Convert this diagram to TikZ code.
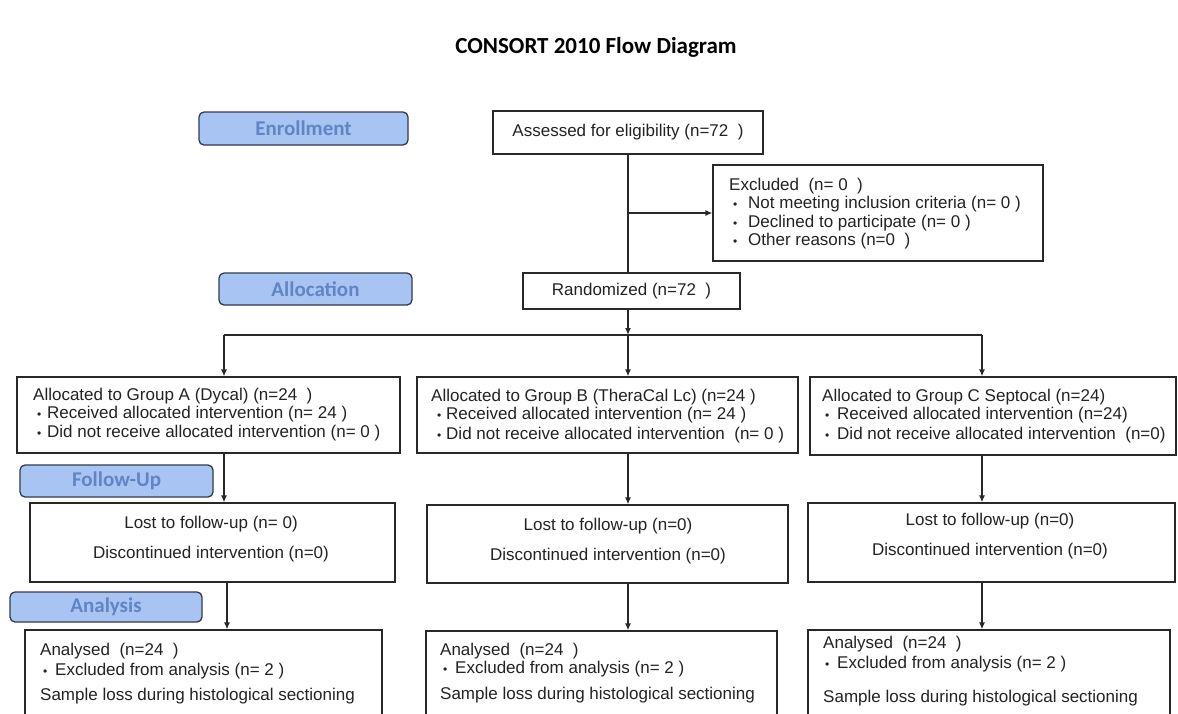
\documentclass[tikz,border=0pt]{standalone}
\usepackage{fontspec}
\setmainfont{Liberation Sans}
\newfontfamily\calfont{Carlito}
\usetikzlibrary{arrows.meta}
\definecolor{stagefill}{RGB}{168,196,242}
\definecolor{stagetext}{RGB}{96,132,196}
\definecolor{stageline}{RGB}{50,58,78}
\definecolor{boxline}{RGB}{40,40,40}
\definecolor{txt}{RGB}{35,35,35}
\newcommand{\bul}[1]{\makebox[#1][l]{\fontsize{12}{12}\selectfont\textbullet}}
\begin{document}
\begin{tikzpicture}[x=1pt,y=-1pt,
  box/.style={draw=boxline, line width=1.3pt, fill=white, inner sep=0pt, text=txt, font=\fontsize{17}{20}\selectfont},
  stage/.style={draw=stageline, line width=1.3pt, fill=stagefill, rounded corners=5pt, inner sep=0pt, text=stagetext, font=\calfont\bfseries\fontsize{21}{24}\selectfont},
  tl/.style={inner sep=0pt, anchor=base west, text=txt, font=\fontsize{17}{20}\selectfont},
  tc/.style={inner sep=0pt, anchor=base, text=txt, font=\fontsize{17}{20}\selectfont},
  conn/.style={draw=boxline, line width=1.3pt},
  arr/.style={conn, -{Latex[length=7pt,width=6pt]}},
]
\useasboundingbox (0,0) rectangle (1178,713);
\clip (0,0) rectangle (1178,713);
\fill[white] (0,0) rectangle (1178,713);

% title
\node[inner sep=0pt, text=black, font=\calfont\bfseries\fontsize{23}{26}\selectfont] (title) at (596,47) {CONSORT 2010 Flow Diagram};

% stage labels
\node[stage, minimum width=209pt, minimum height=33pt] (enroll) at (303.5,128.5) {Enrollment};
\node[stage, minimum width=193pt, minimum height=32pt] (alloclab) at (315.5,289) {Allocation};
\node[stage, minimum width=193pt, minimum height=32pt] (fulab) at (116.5,481) {Follow-Up};
\node[stage, minimum width=192pt, minimum height=30pt] (anlab) at (106,607) {Analysis};

% enrollment
\node[box, minimum width=270pt, minimum height=43pt] (assess) at (628,132.5) {Assessed for eligibility (n=72\ \ )};
\node[box, minimum width=330pt, minimum height=96pt] (excl) at (878,213) {};
\node[tl] (ex0) at (729,190) {Excluded\ \ (n=\ 0\ \ )};
\node[tl] (ex1) at (733,208) {\bul{15pt}Not meeting inclusion criteria (n=\ 0 )};
\node[tl] (ex2) at (733,227) {\bul{15pt}Declined to participate (n=\ 0 )};
\node[tl] (ex3) at (733,245) {\bul{15pt}Other reasons (n=0\ \ )};
\node[box, minimum width=217pt, minimum height=36pt] (rand) at (631.5,291) {Randomized (n=72\ \ )};

% allocation
\node[box, minimum width=383pt, minimum height=76pt] (grpA) at (208.5,415) {};
\node[tl] (a0) at (33,400) {Allocated to Group A (Dycal) (n=24\ \ )};
\node[tl] (a1) at (37,418) {\bul{10pt}Received allocated intervention (n=\ 24 )};
\node[tl] (a2) at (37,437) {\bul{10pt}Did not receive allocated intervention (n=\ 0 )};

\node[box, minimum width=381pt, minimum height=76pt] (grpB) at (607.5,415) {};
\node[tl] (b0) at (431,401) {Allocated to Group B (TheraCal Lc) (n=24 )};
\node[tl] (b1) at (437,419) {\bul{9pt}Received allocated intervention (n=\ 24 )};
\node[tl] (b2) at (437,439) {\bul{9pt}Did not receive allocated intervention\ \ (n=\ 0 )};

\node[box, minimum width=366pt, minimum height=78pt] (grpC) at (993,416) {};
\node[tl] (c0) at (822,401) {Allocated to Group C Septocal (n=24)};
\node[tl] (c1) at (825,419) {\bul{12pt}Received allocated intervention (n=24)};
\node[tl] (c2) at (825,439) {\bul{12pt}Did not receive allocated intervention\ \ (n=0)};

% follow-up
\node[box, minimum width=365pt, minimum height=79pt] (fuA) at (212.5,542.5) {};
\node[tc] (fa1) at (211,528) {Lost to follow-up (n=\ 0)};
\node[tc] (fa2) at (211,558) {Discontinued intervention (n=0)};
\node[box, minimum width=361pt, minimum height=78pt] (fuB) at (607.5,544) {};
\node[tc] (fb1) at (608,530) {Lost to follow-up (n=0)};
\node[tc] (fb2) at (608,560) {Discontinued intervention (n=0)};
\node[box, minimum width=367pt, minimum height=79pt] (fuC) at (991.5,542.5) {};
\node[tc] (fc1) at (990,525) {Lost to follow-up (n=0)};
\node[tc] (fc2) at (990,555) {Discontinued intervention (n=0)};

% analysis
\node[box, minimum width=357pt, minimum height=110pt] (anA) at (203.5,685) {};
\node[tl] (na0) at (40,655) {Analysed\ \ (n=24\ \ )};
\node[tl] (na1) at (43,675) {\bul{12pt}Excluded from analysis (n=\ 2 )};
\node[tl] (na2) at (40,700) {Sample loss during histological sectioning};
\node[box, minimum width=351pt, minimum height=109pt] (anB) at (601.5,685.5) {};
\node[tl] (nb0) at (440,655) {Analysed\ \ (n=24\ \ )};
\node[tl] (nb1) at (443,673) {\bul{12pt}Excluded from analysis (n=\ 2 )};
\node[tl] (nb2) at (440,699) {Sample loss during histological sectioning};
\node[box, minimum width=362pt, minimum height=110pt] (anC) at (989,685) {};
\node[tl] (nc0) at (823,648) {Analysed\ \ (n=24\ \ )};
\node[tl] (nc1) at (825,668) {\bul{12pt}Excluded from analysis (n=\ 2 )};
\node[tl] (nc2) at (823,702) {Sample loss during histological sectioning};

% connectors
\coordinate (j1) at (628,213);
\coordinate (bar) at (628,335);
\coordinate (barA) at (224,335);
\coordinate (barC) at (982,335);
\coordinate (xA2) at (227,0);

\draw[conn] (assess.south) -- (assess.south |- rand.north);
\draw[arr] (j1) -- (excl.west);
\draw[arr] (bar |- rand.south) -- (bar);
\draw[conn] (barA) -- (barC);
\draw[arr] (barA) -- (barA |- grpA.north);
\draw[arr] (bar) -- (bar |- grpB.north);
\draw[arr] (barC) -- (barC |- grpC.north);

\draw[arr] (grpA.south -| barA) -- (barA |- fuA.north);
\draw[arr] (grpB.south -| bar) -- (bar |- fuB.north);
\draw[arr] (grpC.south -| barC) -- (barC |- fuC.north);

\draw[arr] (fuA.south -| xA2) -- (xA2 |- anA.north);
\draw[arr] (fuB.south -| bar) -- (bar |- anB.north);
\draw[arr] (fuC.south -| barC) -- (barC |- anC.north);
\end{tikzpicture}
\end{document}
